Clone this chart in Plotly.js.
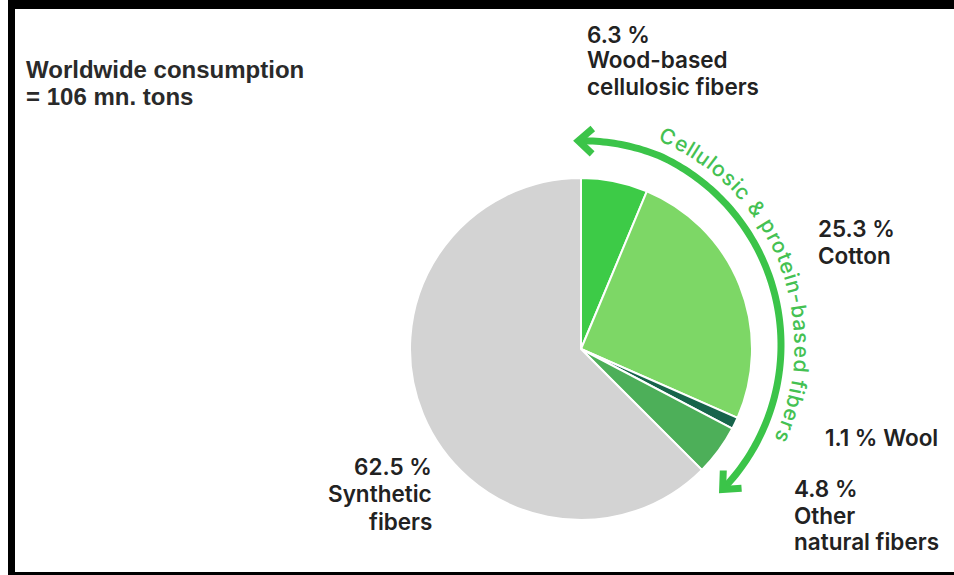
<!DOCTYPE html>
<html>
<head>
<meta charset="utf-8">
<script src="https://cdn.plot.ly/plotly-3.0.1.min.js"></script>
<style>
  html, body { margin: 0; padding: 0; background: #fff; }
  #chart { width: 954px; height: 575px; }
</style>
</head>
<body>
<div id="chart"></div>
<script>
// ---- data ----
const fibers = ['Wood-based cellulosic fibers', 'Cotton', 'Wool', 'Other natural fibers', 'Synthetic fibers'];
const shares = [6.3, 25.3, 1.1, 4.8, 62.5];
const labelLines = [['Wood-based', 'cellulosic fibers'], ['Cotton'], ['Wool'], ['Other', 'natural fibers'], ['Synthetic', 'fibers']];
const sliceColors = ['#3dcb47', '#7dd766', '#17644b', '#4daf59', '#d3d3d3'];
const totalLines = ['Worldwide consumption', '= 106 mn. tons'];
const groupLabel = 'Cellulosic & protein-based fibers';

// ---- page geometry (pixels) ----
const W = 954, H = 575;
const X = px => px / W;
const Y = py => 1 - py / H;

const pieCx = 581, pieCy = 349, pieR = 171;

const pct = i => shares[i].toFixed(1) + ' %';

const labelFont = { family: 'Inter, "Open Sans", sans-serif', size: 22.5, color: '#222222', weight: 600 };
const totalFont = { family: '"Liberation Sans", Arial, sans-serif', size: 24, color: '#2a2a2a', weight: 700 };
const green = '#3bc449';
const arcFont = { family: 'Inter, "Open Sans", sans-serif', size: 21, color: '#44c152', weight: 500 };

const annotations = [];
function textLine(text, px, py, anchor, font) {
  annotations.push({
    text: text, x: X(px), y: Y(py), xref: 'paper', yref: 'paper',
    xanchor: anchor, yanchor: 'middle', showarrow: false, font: font
  });
}

// total consumption note
textLine(totalLines[0], 24, 70, 'left', totalFont);
textLine(totalLines[1], 24, 96, 'left', totalFont);

// slice labels
textLine(pct(0), 585, 34, 'left', labelFont);
textLine(labelLines[0][0], 585, 60, 'left', labelFont);
textLine(labelLines[0][1], 585, 87, 'left', labelFont);

textLine(pct(1), 816, 228, 'left', labelFont);
textLine(labelLines[1][0], 816, 255, 'left', labelFont);

textLine(pct(2) + ' ' + labelLines[2][0], 823, 437, 'left', labelFont);

textLine(pct(3), 792, 488, 'left', labelFont);
textLine(labelLines[3][0], 792, 515, 'left', labelFont);
textLine(labelLines[3][1], 792, 541, 'left', labelFont);

textLine(pct(4), 434, 466, 'right', labelFont);
textLine(labelLines[4][0], 434, 493, 'right', labelFont);
textLine(labelLines[4][1], 434, 521, 'right', labelFont);

// ---- curved arrow around the natural / cellulosic slices ----
const arcCx = 573, arcCy = 345;
const deg = Math.PI / 180;
// radius tightens slightly toward the upper arrowhead
const arcRadius = th => 208 - 4 * Math.max(0, (25 - th) / 25);
const onArc = (R, th) => [arcCx + R * Math.sin(th * deg), arcCy - R * Math.cos(th * deg)];

const thStart = 1.5, thEnd = 134;
let path = '';
for (let th = thStart; th <= thEnd + 1e-9; th += 1) {
  const p = onArc(arcRadius(th), th);
  path += (path ? ' L ' : 'M ') + X(p[0]).toFixed(5) + ',' + Y(p[1]).toFixed(5);
}
{
  const p = onArc(arcRadius(thEnd), thEnd);
  path += ' L ' + X(p[0]).toFixed(5) + ',' + Y(p[1]).toFixed(5);
}

function arrowHead(th, forward) {
  const tip = onArc(arcRadius(th), th);
  // direction back along the curve from the tip
  let bx = Math.cos(th * deg), by = Math.sin(th * deg);
  if (forward) { bx = -bx; by = -by; }
  const phi = 42 * deg, L = 19;
  const arms = [phi, -phi].map(a => [
    tip[0] + L * (bx * Math.cos(a) - by * Math.sin(a)),
    tip[1] + L * (bx * Math.sin(a) + by * Math.cos(a))
  ]);
  return 'M ' + X(arms[0][0]) + ',' + Y(arms[0][1]) +
         ' L ' + X(tip[0]) + ',' + Y(tip[1]) +
         ' L ' + X(arms[1][0]) + ',' + Y(arms[1][1]);
}

const shapes = [
  { type: 'path', xref: 'paper', yref: 'paper', path: path, line: { color: green, width: 7 } },
  { type: 'path', xref: 'paper', yref: 'paper', path: arrowHead(thStart, false), line: { color: green, width: 7 } },
  { type: 'path', xref: 'paper', yref: 'paper', path: arrowHead(thEnd, true), line: { color: green, width: 7 } },
  // black frame
  { type: 'rect', xref: 'paper', yref: 'paper', x0: X(8), x1: X(W), y0: Y(0), y1: Y(9), fillcolor: '#000', line: { width: 0 } },
  { type: 'rect', xref: 'paper', yref: 'paper', x0: X(8), x1: X(15), y0: Y(0), y1: Y(H), fillcolor: '#000', line: { width: 0 } },
  { type: 'rect', xref: 'paper', yref: 'paper', x0: X(8), x1: X(W), y0: Y(572), y1: Y(H), fillcolor: '#000', line: { width: 0 } }
];

// group label set letter by letter along the outside of the arrow
(function () {
  const ctx = document.createElement('canvas').getContext('2d');
  ctx.font = arcFont.weight + ' ' + arcFont.size + 'px Inter, "Open Sans", sans-serif';
  const chars = Array.from(groupLabel);
  const widths = chars.map(c => ctx.measureText(c).width);
  const centers = [];
  let acc = 0;
  widths.forEach(w => { centers.push(acc + w / 2); acc += w; });
  const textR = 229, thA = 24.4, thB = 113.4;
  const span = (thB - thA) * deg * textR;
  const first = centers[0], last = centers[centers.length - 1];
  const k = span / (last - first);
  chars.forEach((c, i) => {
    if (c === ' ') return;
    const s = (centers[i] - first) * k;
    const th = thA + s / textR / deg;
    const p = onArc(textR, th);
    annotations.push({
      text: c, x: X(p[0]), y: Y(p[1]), xref: 'paper', yref: 'paper',
      xanchor: 'center', yanchor: 'middle', showarrow: false,
      textangle: th, font: arcFont
    });
  });
})();

const pie = {
  type: 'pie',
  labels: fibers,
  values: shares,
  sort: false,
  direction: 'clockwise',
  rotation: 0,
  textinfo: 'none',
  hoverinfo: 'label+percent',
  marker: { colors: sliceColors, line: { color: '#ffffff', width: 2 } },
  domain: { x: [X(pieCx - pieR), X(pieCx + pieR)], y: [Y(pieCy + pieR), Y(pieCy - pieR)] },
  showlegend: false
};

const layout = {
  width: W, height: H,
  margin: { l: 0, r: 0, t: 0, b: 0 },
  paper_bgcolor: '#ffffff',
  plot_bgcolor: '#ffffff',
  showlegend: false,
  annotations: annotations,
  shapes: shapes
};

Plotly.newPlot('chart', [pie], layout, { staticPlot: true, displayModeBar: false });
</script>
</body>
</html>
